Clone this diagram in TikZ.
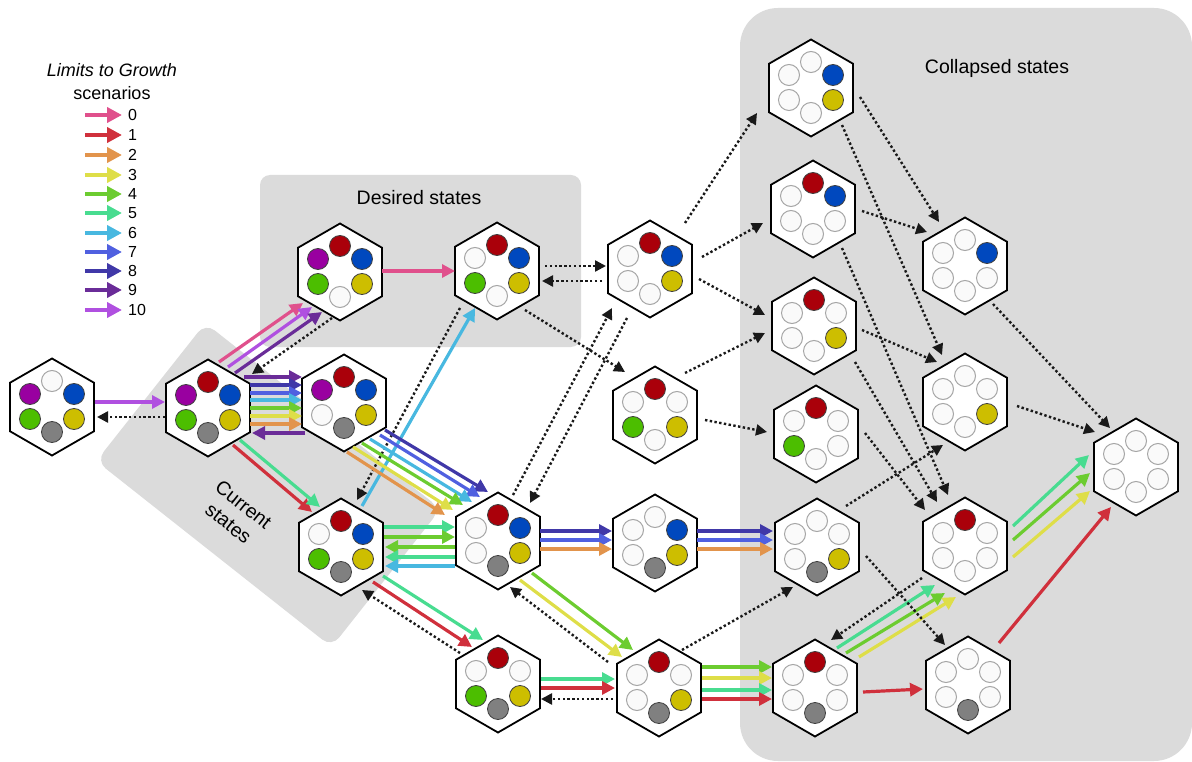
\documentclass[tikz,border=0pt]{standalone}
\usepackage{fontspec}
\setmainfont{Liberation Sans}
\usetikzlibrary{arrows.meta,shapes.geometric}
\definecolor{bgg}{RGB}{219,219,219}
\definecolor{k0}{RGB}{224,80,140}
\definecolor{k1}{RGB}{208,48,60}
\definecolor{k2}{RGB}{226,148,76}
\definecolor{k3}{RGB}{222,222,72}
\definecolor{k4}{RGB}{108,204,48}
\definecolor{k5}{RGB}{72,220,144}
\definecolor{k6}{RGB}{72,184,224}
\definecolor{k7}{RGB}{80,96,224}
\definecolor{k8}{RGB}{64,56,168}
\definecolor{k9}{RGB}{106,44,152}
\definecolor{k10}{RGB}{176,80,224}
\definecolor{sR}{RGB}{170,0,10}
\definecolor{sB}{RGB}{0,72,190}
\definecolor{sY}{RGB}{205,190,0}
\definecolor{sG}{RGB}{76,190,0}
\definecolor{sP}{RGB}{153,0,160}
\definecolor{sK}{RGB}{128,128,128}
\tikzset{
  hexa/.style={regular polygon, regular polygon sides=6, shape border rotate=30,
    minimum size=97pt, inner sep=0pt, draw=black, line width=1.8pt, fill=white},
  slot/.style={circle, minimum size=21pt, inner sep=0pt, #1},
  fR/.style={fill=sR, draw=black!75, line width=0.8pt},
  fB/.style={fill=sB, draw=black!75, line width=0.8pt},
  fY/.style={fill=sY, draw=black!75, line width=0.8pt},
  fG/.style={fill=sG, draw=black!75, line width=0.8pt},
  fP/.style={fill=sP, draw=black!75, line width=0.8pt},
  fK/.style={fill=sK, draw=black!75, line width=0.8pt},
  fW/.style={fill=black!2, draw=black!35, line width=1pt},
  ca/.style={line width=3.2pt, -{Triangle[length=13pt,width=13pt]}},
  c0/.style={ca, draw=k0}, c1/.style={ca, draw=k1}, c2/.style={ca, draw=k2},
  c3/.style={ca, draw=k3}, c4/.style={ca, draw=k4}, c5/.style={ca, draw=k5},
  c6/.style={ca, draw=k6}, c7/.style={ca, draw=k7}, c8/.style={ca, draw=k8},
  c9/.style={ca, draw=k9}, c10/.style={ca, draw=k10},
  da/.style={draw=black!90, line width=2.4pt, dash pattern=on 2.4pt off 2.4pt,
    -{Triangle[length=11pt,width=11pt]}},
  la/.style={line width=4pt, -{Triangle[length=15pt,width=15pt]}},
  ttl/.style={font=\fontsize{19.5}{24}\selectfont},
}
\newcommand\hs[8]{%
  \node[hexa] (#1) at (#2) {};
  \node[slot=#3] (#1a) at ([shift={(0,-26)}]#1.center) {};
  \node[slot=#4] (#1b) at ([shift={(22,-13)}]#1.center) {};
  \node[slot=#5] (#1c) at ([shift={(22,12)}]#1.center) {};
  \node[slot=#6] (#1d) at ([shift={(0,25)}]#1.center) {};
  \node[slot=#7] (#1e) at ([shift={(-22,12)}]#1.center) {};
  \node[slot=#8] (#1f) at ([shift={(-22,-13)}]#1.center) {};
}
\newcommand\cn[5]{\draw[#1] ([shift={(#3)}]#2.center) -- ([shift={(#5)}]#4.center);}
\begin{document}
\begin{tikzpicture}[x=1pt,y=-1pt]
\useasboundingbox (0,0) rectangle (1192,762);
% backgrounds
\fill[bgg, rounded corners=38pt] (740,8) rectangle (1192,761);
\fill[bgg, rounded corners=10pt] (260,175) rectangle (581,347);
\node[fill=bgg, rounded corners=12pt, rotate=-38.3, minimum width=300pt, minimum height=176pt, inner sep=0pt] (bgcur) at (268.5,485) {};
% titles
\node[ttl] (tdes) at (419,198) {Desired states};
\node[ttl] (tcol) at (997,68) {Collapsed states};
\node[ttl, align=center, rotate=-38.3] (tcur) at (236,514) {Current\\states};
% legend
\node[font=\fontsize{18}{22}\selectfont\itshape] (lt1) at (112,70) {Limits to Growth};
\node[font=\fontsize{18}{22}\selectfont] (lt2) at (112,93) {scenarios};
\foreach \i/\y in {0/115,1/135,2/155,3/175,4/194,5/213,6/233,7/252,8/271,9/290,10/310} {
  \node[font=\fontsize{16}{18}\selectfont, anchor=west, inner sep=0pt] (l\i) at (128,\y) {\i};
  \draw[la, draw=k\i] ([xshift=-43pt]l\i.west) -- ([xshift=-6pt]l\i.west);
}
% states: top, UR, LR, bottom, LL, UL
\hs{h1}{52,407}{fW}{fB}{fY}{fK}{fG}{fP}
\hs{h2}{208,408}{fR}{fB}{fY}{fK}{fG}{fP}
\hs{h3}{340,272}{fR}{fB}{fY}{fW}{fG}{fP}
\hs{h4}{497,271}{fR}{fB}{fY}{fW}{fG}{fW}
\hs{h5}{344,403}{fR}{fB}{fY}{fK}{fW}{fP}
\hs{h6}{341,547}{fR}{fB}{fY}{fK}{fG}{fW}
\hs{h7}{498,541}{fR}{fB}{fY}{fK}{fW}{fW}
\hs{h8}{650,269}{fR}{fB}{fY}{fW}{fW}{fW}
\hs{h9}{655,415}{fR}{fW}{fY}{fW}{fG}{fW}
\hs{h10}{655,543}{fW}{fB}{fY}{fK}{fW}{fW}
\hs{h11}{498,684}{fR}{fW}{fY}{fK}{fG}{fW}
\hs{h12}{659,688}{fR}{fW}{fY}{fK}{fW}{fW}
\hs{h13}{811,88}{fW}{fB}{fY}{fW}{fW}{fW}
\hs{h14}{813,209}{fR}{fB}{fW}{fW}{fW}{fW}
\hs{h15}{814,326}{fR}{fW}{fY}{fW}{fW}{fW}
\hs{h16}{816,434}{fR}{fW}{fW}{fW}{fG}{fW}
\hs{h17}{817,547}{fW}{fW}{fY}{fK}{fW}{fW}
\hs{h18}{815,688}{fR}{fW}{fW}{fK}{fW}{fW}
\hs{h19}{965,266}{fW}{fB}{fW}{fW}{fW}{fW}
\hs{h20}{965,402}{fW}{fW}{fY}{fW}{fW}{fW}
\hs{h21}{965,546}{fR}{fW}{fW}{fW}{fW}{fW}
\hs{h22}{968,685}{fW}{fW}{fW}{fK}{fW}{fW}
\hs{h23}{1136,467}{fW}{fW}{fW}{fW}{fW}{fW}
% connectors
\cn{c10}{h1}{43,-5}{h2}{-43,-6}
\cn{da}{h2}{-43,9}{h1}{45,10}
\cn{c9}{h2}{36,-31}{h5}{-42,-26}
\cn{c8}{h2}{42,-23}{h5}{-42,-18}
\cn{c7}{h2}{42,-15}{h5}{-42,-10}
\cn{c6}{h2}{42,-8}{h5}{-42,-3}
\cn{c4}{h2}{42,0}{h5}{-42,5}
\cn{c3}{h2}{42,8}{h5}{-42,13}
\cn{c2}{h2}{42,16}{h5}{-42,21}
\cn{c9}{h5}{-39,30}{h2}{44,25}
\cn{c0}{h2}{11,-46}{h3}{-37,31}
\cn{c10}{h2}{20,-41}{h3}{-28,35}
\cn{c9}{h2}{27,-35}{h3}{-18,40}
\cn{da}{h3}{-8,46}{h2}{44,-34}
\cn{c0}{h3}{42,-1}{h4}{-42,0}
\cn{da}{h4}{48,-5}{h8}{-44,-3}
\cn{da}{h8}{-48,12}{h4}{45,10}
\cn{da}{h4}{28,39}{h9}{-30,-43}
\cn{c6}{h6}{21,-41}{h4}{-22,37}
\cn{da}{h4}{-37,37}{h6}{16,-47}
\cn{c8}{h5}{41,27}{h7}{-10,-49}
\cn{c7}{h5}{36,32}{h7}{-18,-44}
\cn{c6}{h5}{26,36}{h7}{-26,-39}
\cn{c4}{h5}{18,40}{h7}{-35,-36}
\cn{c3}{h5}{9,44}{h7}{-45,-31}
\cn{c2}{h5}{3,49}{h7}{-53,-26}
\cn{c1}{h2}{25,37}{h6}{-29,-35}
\cn{c5}{h2}{32,32}{h6}{-21,-40}
\cn{c5}{h6}{43,-20}{h7}{-43,-14}
\cn{c4}{h6}{43,-10}{h7}{-43,-4}
\cn{c4}{h7}{-43,6}{h6}{44,0}
\cn{c5}{h7}{-43,16}{h6}{44,10}
\cn{c6}{h7}{-43,25}{h6}{44,19}
\cn{c1}{h6}{32,35}{h11}{-26,-37}
\cn{c5}{h6}{42,29}{h11}{-15,-44}
\cn{da}{h11}{-38,-31}{h6}{21,43}
\cn{c5}{h11}{43,-5}{h12}{-44,-9}
\cn{c1}{h11}{43,4}{h12}{-44,0}
\cn{da}{h12}{-46,11}{h11}{43,15}
\cn{c4}{h7}{34,32}{h12}{-26,-38}
\cn{c3}{h7}{22,39}{h12}{-37,-31}
\cn{da}{h12}{-51,-26}{h7}{12,46}
\cn{c8}{h7}{42,-10}{h10}{-43,-12}
\cn{c7}{h7}{42,-1}{h10}{-43,-3}
\cn{c2}{h7}{42,8}{h10}{-43,6}
\cn{c8}{h10}{42,-12}{h17}{-44,-16}
\cn{c7}{h10}{42,-3}{h17}{-44,-7}
\cn{c2}{h10}{42,6}{h17}{-44,2}
\cn{c4}{h12}{43,-21}{h18}{-43,-21}
\cn{c3}{h12}{43,-10}{h18}{-43,-10}
\cn{c5}{h12}{43,2}{h18}{-43,2}
\cn{c1}{h12}{43,11}{h18}{-43,11}
\cn{da}{h12}{23,-38}{h17}{-24,40}
\cn{c5}{h18}{22,-40}{h21}{-30,39}
\cn{c4}{h18}{31,-35}{h21}{-20,47}
\cn{c3}{h18}{44,-31}{h21}{-9,51}
\cn{da}{h21}{-43,32}{h18}{16,-48}
\cn{c1}{h18}{48,4}{h22}{-45,4}
\cn{c1}{h22}{31,-42}{h23}{-25,40}
\cn{c5}{h21}{48,-20}{h23}{-47,-12}
\cn{c4}{h21}{48,-6}{h23}{-46,6}
\cn{c3}{h21}{48,11}{h23}{-46,24}
\cn{da}{h20}{52,4}{h23}{-41,-35}
\cn{da}{h19}{28,38}{h23}{-26,-39}
\cn{da}{h17}{29,-41}{h20}{-22,43}
\cn{da}{h17}{49,9}{h22}{-23,-40}
\cn{da}{h16}{49,-1}{h21}{-40,-36}
\cn{da}{h15}{41,36}{h21}{-28,-44}
\cn{da}{h14}{29,39}{h21}{-17,-51}
\cn{da}{h13}{31,37}{h20}{-23,-47}
\cn{da}{h13}{49,9}{h19}{-26,-44}
\cn{da}{h14}{49,2}{h19}{-38,-34}
\cn{da}{h15}{48,4}{h20}{-28,-40}
\cn{da}{h8}{35,-46}{h13}{-54,25}
\cn{da}{h8}{52,-12}{h14}{-50,14}
\cn{da}{h8}{49,10}{h15}{-49,-11}
\cn{da}{h9}{30,-42}{h15}{-49,7}
\cn{da}{h9}{50,5}{h16}{-49,-2}
\cn{da}{h7}{15,-46}{h8}{-38,39}
\cn{da}{h8}{-23,49}{h7}{32,-38}
\end{tikzpicture}
\end{document}
